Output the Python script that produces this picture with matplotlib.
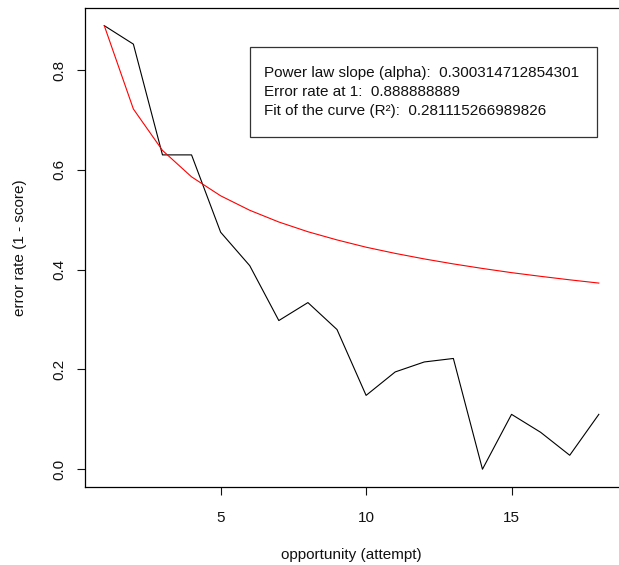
import matplotlib
matplotlib.use("Agg")
import matplotlib.pyplot as plt
from matplotlib.patches import Rectangle

plt.rcParams['font.family'] = ['Liberation Sans', 'DejaVu Sans']

attempts = list(range(1, 19))
error_rate = [0.889, 0.852, 0.630, 0.630, 0.475, 0.408, 0.298, 0.334, 0.280,
              0.148, 0.195, 0.215, 0.222, 0.000, 0.110, 0.074, 0.028, 0.110]
fitted = [0.889, 0.722, 0.639, 0.586, 0.548, 0.519, 0.4955, 0.476, 0.4596,
          0.445, 0.4326, 0.4215, 0.4115, 0.4024, 0.394, 0.3866, 0.3796, 0.3731]
xticks = [5, 10, 15]
yticks = [0.0, 0.2, 0.4, 0.6, 0.8]
legend_lines = [
    "Power law slope (alpha):  0.300314712854301",
    "Error rate at 1:  0.888888889",
    "Fit of the curve (R\u00b2):  0.281115266989826",
]

W, H = 619, 565
fig = plt.figure(figsize=(W / 100, H / 100), dpi=100)
left, right, top, bottom = 84.5, 618.6, 8.0, 487.0
ax = fig.add_axes([left / W, 1 - bottom / H, (right - left) / W, (bottom - top) / H])

ax.plot(attempts, error_rate, color='black', lw=0.8)
ax.plot(attempts, fitted, color='red', lw=0.8)

ax.set_xlim(0.32, 18.68)
ax.set_ylim(-0.0356, 0.9244)
ax.set_xticks(xticks)
ax.set_xticklabels([str(t) for t in xticks])
ax.set_yticks(yticks)
ax.set_yticklabels([f"{t:.1f}" for t in yticks], rotation=90, va='center')
ax.tick_params(axis='both', length=6, width=0.8, labelsize=11, colors='#111111')
ax.tick_params(axis='x', pad=11)
ax.tick_params(axis='y', pad=7)
for s in ['left', 'bottom', 'top']:
    ax.spines[s].set_linewidth(0.9)
ax.spines['right'].set_visible(False)

fig.text(351.8 / W, 1 - 555 / H, "opportunity (attempt)", ha='center', va='center',
         fontsize=11, color='#111111')
fig.text(19.7 / W, 1 - (8 + 487) / 2 / H, "error rate (1 - score)", ha='center', va='center',
         rotation=90, fontsize=11, color='#111111')

bx0, bx1, by0, by1 = 250, 597, 47.2, 136.6
fig.patches.append(Rectangle((bx0 / W, 1 - by1 / H), (bx1 - bx0) / W, (by1 - by0) / H,
                             transform=fig.transFigure, fill=False, edgecolor='#333333', lw=0.9))
for i, line in enumerate(legend_lines):
    fig.text(264 / W, 1 - (73.2 + 19 * i) / H, line, ha='left', va='center', fontsize=11,
             color='#111111')

fig.savefig("out.png", dpi=100)
